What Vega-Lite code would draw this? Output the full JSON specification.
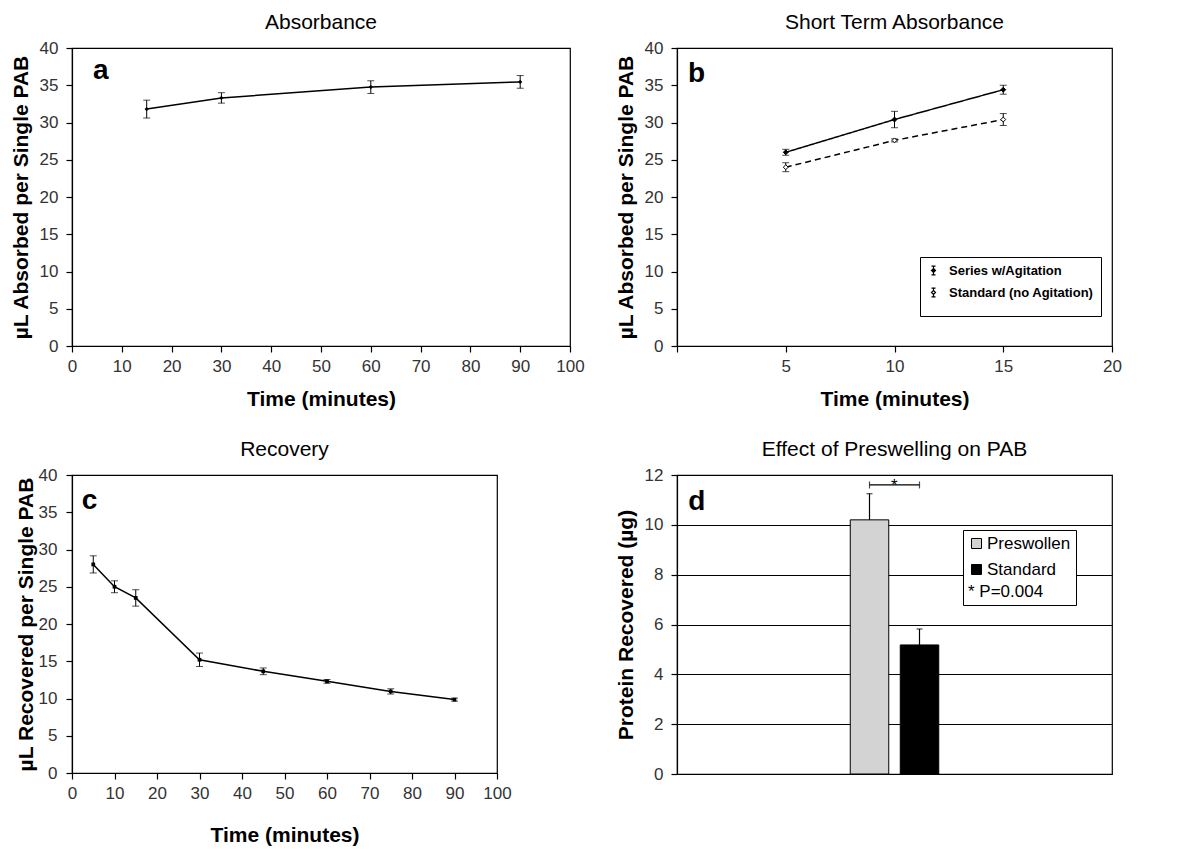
{
  "$schema": "https://vega.github.io/schema/vega-lite/v6.json",
  "padding": {"left": 9, "top": 11, "right": 5, "bottom": 5},
  "background": "white",
  "datasets": {
    "absorb": [
      {"time": 15, "mean": 31.8, "err": 1.2},
      {"time": 30, "mean": 33.3, "err": 0.7},
      {"time": 60, "mean": 34.75, "err": 0.85},
      {"time": 90, "mean": 35.45, "err": 0.85}
    ],
    "shortterm": [
      {"tmin": 5, "val": 26.0, "sd": 0.4, "series": "Series w/Agitation"},
      {"tmin": 10, "val": 30.4, "sd": 1.1, "series": "Series w/Agitation"},
      {"tmin": 15, "val": 34.4, "sd": 0.6, "series": "Series w/Agitation"},
      {"tmin": 5, "val": 24.0, "sd": 0.6, "series": "Standard (no Agitation)"},
      {"tmin": 10, "val": 27.6, "sd": 0.2, "series": "Standard (no Agitation)"},
      {"tmin": 15, "val": 30.4, "sd": 0.8, "series": "Standard (no Agitation)"}
    ],
    "recovery": [
      {"t": 5, "rec": 28.0, "e": 1.15},
      {"t": 10, "rec": 25.0, "e": 0.8},
      {"t": 15, "rec": 23.5, "e": 1.1},
      {"t": 30, "rec": 15.2, "e": 0.9},
      {"t": 45, "rec": 13.65, "e": 0.45},
      {"t": 60, "rec": 12.3, "e": 0.25},
      {"t": 75, "rec": 10.95, "e": 0.35},
      {"t": 90, "rec": 9.85, "e": 0.2}
    ],
    "pab": [
      {"sample": "Preswollen", "protein": 10.2, "upper": 11.25},
      {"sample": "Standard", "protein": 5.18, "upper": 5.82}
    ],
    "bracket": [
      {"sample": "Preswollen", "level": 11.6},
      {"sample": "Standard", "level": 11.6}
    ]
  },
  "config": {
    "font": "Liberation Sans",
    "view": {"stroke": "black", "strokeWidth": 1.2},
    "axis": {
      "domainColor": "black", "domainWidth": 1.2, "tickColor": "black", "tickWidth": 1.2,
      "labelColor": "#333333", "labelFontSize": 17, "labelFont": "Liberation Sans",
      "titleFontSize": 21, "titleFontWeight": "bold", "titleColor": "black", "titleFont": "Liberation Sans",
      "grid": false, "tickSize": 6, "labelFlush": false, "labelOverlap": false
    },
    "title": {"fontSize": 21, "fontWeight": "normal", "color": "black", "font": "Liberation Sans", "offset": 6}
  },
  "columns": 1,
  "align": "none",
  "spacing": 28,
  "resolve": {"scale": {"fill": "independent"}, "legend": {"fill": "independent"}},
  "concat": [
    {
      "columns": 2,
      "align": "none",
      "spacing": 29,
      "resolve": {"scale": {"fill": "independent"}, "legend": {"fill": "independent"}},
      "concat": [
        {
          "width": 498, "height": 298,
          "title": "Absorbance",
          "data": {"name": "absorb"},
          "encoding": {
            "x": {"field": "time", "type": "quantitative", "scale": {"domain": [0, 100], "nice": false},
                  "axis": {"values": [0,10,20,30,40,50,60,70,80,90,100], "title": "Time (minutes)", "labelPadding": 6, "titlePadding": 14}},
            "y": {"field": "mean", "type": "quantitative", "scale": {"domain": [0, 40]},
                  "axis": {"values": [0,5,10,15,20,25,30,35,40], "title": "µL Absorbed per Single PAB", "labelPadding": 8, "titlePadding": 8}}
          },
          "layer": [
            {"mark": {"type": "line", "color": "black", "strokeWidth": 1.5}},
            {"mark": {"type": "errorbar", "color": "black", "ticks": {"size": 7}}, "encoding": {"yError": {"field": "err"}}},
            {"mark": {"type": "point", "shape": "diamond", "filled": true, "color": "black", "size": 18, "opacity": 1}},
            {"transform": [{"filter": "datum.time == 15"}],
             "mark": {"type": "text", "text": "a", "fontSize": 28, "fontWeight": "bold", "align": "left", "baseline": "alphabetic", "color": "black"},
             "encoding": {"x": {"datum": 4.2}, "y": {"datum": 35.8}}}
          ]
        },
        {
          "width": 435, "height": 298,
          "title": "Short Term Absorbance",
          "data": {"name": "shortterm"},
          "encoding": {
            "x": {"field": "tmin", "type": "quantitative", "scale": {"domain": [0, 20], "nice": false},
                  "axis": {"values": [0,5,10,15,20], "labelExpr": "datum.value == 0 ? '' : datum.label", "title": "Time (minutes)", "labelPadding": 6, "titlePadding": 14}},
            "y": {"field": "val", "type": "quantitative", "scale": {"domain": [0, 40]},
                  "axis": {"values": [0,5,10,15,20,25,30,35,40], "title": "µL Absorbed per Single PAB", "labelPadding": 8, "titlePadding": 8}}
          },
          "layer": [
            {"mark": {"type": "line", "color": "black", "strokeWidth": 1.5},
             "encoding": {"detail": {"field": "series"},
                          "strokeDash": {"field": "series", "type": "nominal", "legend": null,
                                         "scale": {"domain": ["Series w/Agitation", "Standard (no Agitation)"], "range": [[1, 0], [6, 4]]}}}},
            {"mark": {"type": "errorbar", "color": "black", "ticks": {"size": 7}}, "encoding": {"yError": {"field": "sd"}, "detail": {"field": "series"}}},
            {"mark": {"type": "point", "shape": "diamond", "filled": true, "stroke": "black", "strokeWidth": 1, "size": 24, "opacity": 1},
             "encoding": {"fill": {"field": "series", "type": "nominal",
                                   "scale": {"domain": ["Series w/Agitation", "Standard (no Agitation)"], "range": ["black", "white"]},
                                   "legend": {"orient": "none", "legendX": 243, "legendY": 209, "title": " ", "titleOrient": "bottom", "titleFontSize": 9, "titlePadding": 0,
                                              "strokeColor": "black", "fillColor": "white", "padding": 7,
                                              "symbolType": "M-0.45,-1H0.45M0,-1V-0.45M0,0.45V1M-0.45,1H0.45M0,-0.45L0.45,0L0,0.45L-0.45,0Z",
                                              "symbolSize": 80, "symbolStrokeColor": "black", "symbolStrokeWidth": 1.2,
                                              "labelFontSize": 13, "labelFontWeight": "bold", "labelColor": "black", "labelFont": "Liberation Sans",
                                              "rowPadding": 7, "labelOffset": 9}}}},
            {"transform": [{"filter": "datum.tmin == 5 && datum.series == 'Series w/Agitation'"}],
             "mark": {"type": "text", "text": "b", "fontSize": 28, "fontWeight": "bold", "align": "left", "baseline": "alphabetic", "color": "black"},
             "encoding": {"x": {"datum": 0.5}, "y": {"datum": 35.4}}}
          ]
        }
      ]
    },
    {
      "columns": 2,
      "align": "none",
      "spacing": 102,
      "resolve": {"scale": {"fill": "independent"}, "legend": {"fill": "independent"}},
      "concat": [
        {
          "width": 425, "height": 298,
          "title": "Recovery",
          "data": {"name": "recovery"},
          "encoding": {
            "x": {"field": "t", "type": "quantitative", "scale": {"domain": [0, 100], "nice": false},
                  "axis": {"values": [0,10,20,30,40,50,60,70,80,90,100], "title": "Time (minutes)", "labelPadding": 6, "titlePadding": 23}},
            "y": {"field": "rec", "type": "quantitative", "scale": {"domain": [0, 40]},
                  "axis": {"values": [0,5,10,15,20,25,30,35,40], "title": "µL Recovered per Single PAB", "labelPadding": 9, "titlePadding": 2}}
          },
          "layer": [
            {"mark": {"type": "line", "color": "black", "strokeWidth": 1.5}},
            {"mark": {"type": "errorbar", "color": "black", "ticks": {"size": 7}}, "encoding": {"yError": {"field": "e"}}},
            {"mark": {"type": "point", "shape": "square", "filled": true, "color": "black", "size": 14, "opacity": 1}},
            {"transform": [{"filter": "datum.t == 5"}],
             "mark": {"type": "text", "text": "c", "fontSize": 28, "fontWeight": "bold", "align": "left", "baseline": "alphabetic", "color": "black"},
             "encoding": {"x": {"datum": 2.3}, "y": {"datum": 35.4}}}
          ]
        },
        {
          "width": 435, "height": 299,
          "title": "Effect of Preswelling on PAB",
          "data": {"name": "pab"},
          "encoding": {
            "x": {"field": "sample", "type": "nominal",
                  "scale": {"domain": ["l1", "l2", "l3", "Preswollen", "Standard", "r1", "r2", "r3"], "paddingInner": 0.23, "paddingOuter": 0.465}, "axis": null},
            "y": {"field": "protein", "type": "quantitative", "scale": {"domain": [0, 12]},
                  "axis": {"values": [0,2,4,6,8,10,12], "grid": true, "gridColor": "black", "gridWidth": 1.2, "title": "Protein Recovered (µg)", "labelPadding": 8, "titlePadding": 8}}
          },
          "layer": [
            {"mark": {"type": "rule", "color": "black", "strokeWidth": 1.2}, "encoding": {"y2": {"field": "upper"}}},
            {"mark": {"type": "tick", "orient": "horizontal", "color": "black", "size": 6, "thickness": 1.2}, "encoding": {"y": {"field": "upper", "type": "quantitative"}}},
            {"mark": {"type": "bar", "stroke": "black", "strokeWidth": 1},
             "encoding": {"fill": {"field": "sample", "type": "nominal",
                                   "scale": {"domain": ["Preswollen", "Standard"], "range": ["#d3d3d3", "black"]},
                                   "legend": {"orient": "none", "legendX": 286, "legendY": 55, "title": "*  P=0.004", "titleOrient": "bottom",
                                              "titleFontSize": 17, "titleFontWeight": "normal", "titleColor": "black", "titleFont": "Liberation Sans", "titlePadding": 6,
                                              "strokeColor": "black", "fillColor": "white", "padding": 5,
                                              "symbolType": "square", "symbolSize": 100, "symbolStrokeColor": "black", "symbolStrokeWidth": 1,
                                              "labelFontSize": 17, "labelColor": "black", "labelFont": "Liberation Sans", "labelOffset": 2, "rowPadding": 8}}}},
            {"data": {"name": "bracket"}, "mark": {"type": "line", "color": "black", "strokeWidth": 1.2},
             "encoding": {"y": {"field": "level", "type": "quantitative"}}},
            {"data": {"name": "bracket"}, "mark": {"type": "tick", "orient": "vertical", "color": "black", "size": 7, "thickness": 1.2},
             "encoding": {"y": {"field": "level", "type": "quantitative"}}},
            {"data": {"name": "bracket"},
             "transform": [{"filter": "datum.sample == 'Preswollen'"}],
             "mark": {"type": "text", "text": "*", "fontSize": 17, "align": "center", "baseline": "alphabetic", "color": "black", "dy": 6},
             "encoding": {"x": {"field": "sample", "type": "nominal", "bandPosition": 1.145}, "y": {"field": "level", "type": "quantitative"}}},
            {"transform": [{"filter": "datum.sample == 'Preswollen'"}],
             "mark": {"type": "text", "text": "d", "fontSize": 28, "fontWeight": "bold", "align": "left", "baseline": "alphabetic", "color": "black"},
             "encoding": {"x": {"field": "sample", "type": "nominal", "bandPosition": -4.21}, "y": {"datum": 10.58}}}
          ]
        }
      ]
    }
  ]
}
